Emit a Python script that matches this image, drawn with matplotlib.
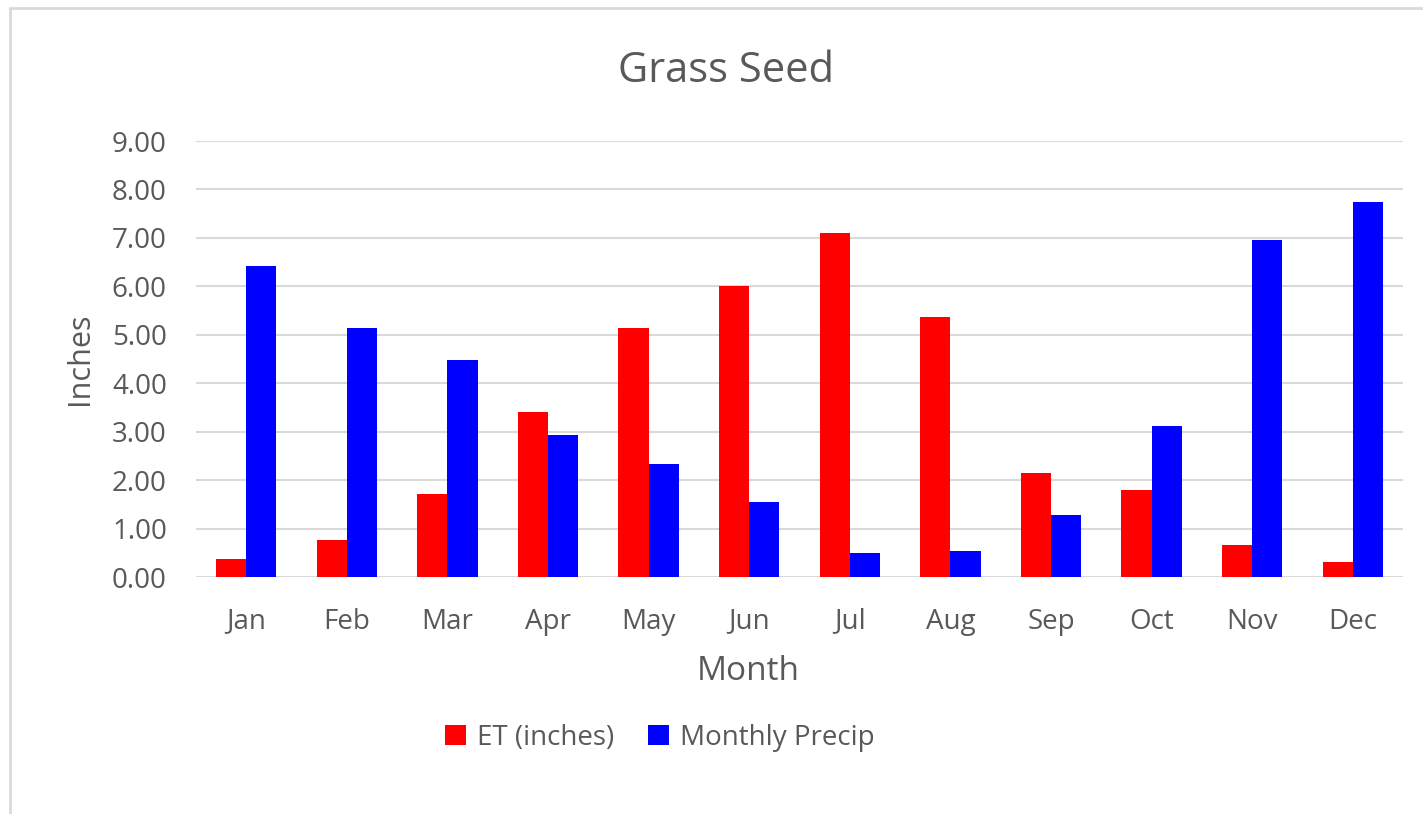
import numpy as np
import matplotlib
matplotlib.use("Agg")
import matplotlib.pyplot as plt
from matplotlib.patches import Rectangle

plt.rcParams['font.family'] = ['Open Sans', 'DejaVu Sans']

# data
months = ['Jan', 'Feb', 'Mar', 'Apr', 'May', 'Jun', 'Jul', 'Aug', 'Sep', 'Oct', 'Nov', 'Dec']
et_inches = [0.37, 0.77, 1.72, 3.41, 5.15, 6.00, 7.10, 5.36, 2.15, 1.80, 0.66, 0.31]
monthly_precip = [6.43, 5.13, 4.47, 2.94, 2.34, 1.55, 0.50, 0.54, 1.28, 3.12, 6.95, 7.74]
yticks = np.arange(0, 10, 1)

text_col = '#595959'

fig = plt.figure(figsize=(14.23, 8.14), dpi=100)
ax = fig.add_axes([196 / 1423, 1 - 577 / 814, (1403 - 196) / 1423, (577 - 141) / 814])

# light frame round the chart (right/bottom edges are cut off in the original)
fig.patches.append(Rectangle((10 / 1423, -0.05), 1.1, 1 - 8 / 814 + 0.05,
                             transform=fig.transFigure, fill=False,
                             edgecolor='#d9d9d9', linewidth=2))

x = np.arange(len(months))
w = 0.3
ax.bar(x - w / 2, et_inches, w, color='#ff0000', label='ET (inches)', zorder=3)
ax.bar(x + w / 2, monthly_precip, w, color='#0000ff', label='Monthly Precip', zorder=3)

ax.set_xlim(-0.5, len(months) - 0.5)
ax.set_ylim(0, 9)
ax.set_yticks(yticks)
ax.set_yticklabels([f'{v:.2f}' for v in yticks])
ax.set_xticks(x)
ax.set_xticklabels(months)
ax.yaxis.grid(True, color='#d9d9d9', linewidth=1.5, zorder=0)
ax.set_axisbelow(True)
for s in ax.spines.values():
    s.set_visible(False)
ax.tick_params(length=0, labelsize=20, colors=text_col)
ax.tick_params(axis='y', pad=21)
ax.tick_params(axis='x', pad=22)

ax.set_ylabel('Inches', fontsize=22, color=text_col, labelpad=12)
fig.text(748 / 1423, 1 - 671 / 814, 'Month', ha='center', va='center', fontsize=24, color=text_col)
fig.text(726 / 1423, 1 - 71 / 814, 'Grass Seed', ha='center', va='center', fontsize=30, color=text_col)

ax.legend(loc='center', bbox_to_anchor=(660 / 1423, 1 - 738 / 814), bbox_transform=fig.transFigure,
          ncol=2, frameon=False, fontsize=20, labelcolor=text_col,
          handlelength=0.75, handleheight=0.75, columnspacing=1.2, handletextpad=0.4)

fig.savefig('out.png', dpi=100)
